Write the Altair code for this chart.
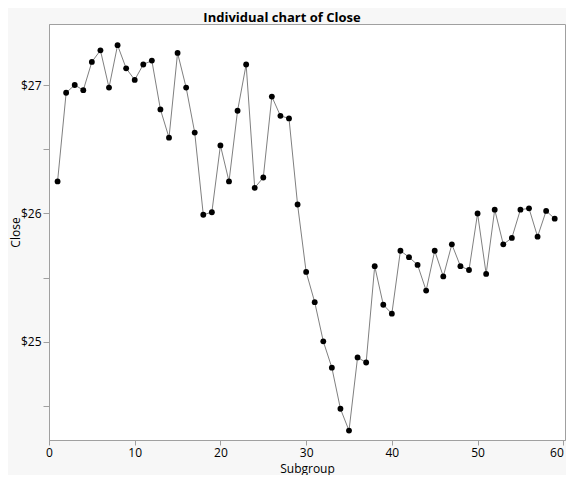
import altair as alt
import pandas as pd

subgroup = list(range(1, 60))
close = [26.25, 26.94, 27.00, 26.96, 27.18, 27.27, 26.98, 27.31, 27.13, 27.04,
         27.16, 27.19, 26.81, 26.59, 27.25, 26.98, 26.63, 25.99, 26.01, 26.53,
         26.25, 26.80, 27.16, 26.20, 26.28, 26.91, 26.76, 26.74, 26.07, 25.545,
         25.31, 25.005, 24.80, 24.48, 24.31, 24.88, 24.84, 25.59, 25.29, 25.22,
         25.71, 25.66, 25.60, 25.40, 25.71, 25.51, 25.76, 25.59, 25.56, 26.00,
         25.53, 26.03, 25.76, 25.81, 26.03, 26.04, 25.82, 26.02, 25.96]

y_ticks = [24.5, 25, 25.5, 26, 26.5, 27]
x_ticks = [0, 10, 20, 30, 40, 50, 60]

df = pd.DataFrame({"Subgroup": subgroup, "Close": close})

FONT = "Open Sans"

x = alt.X("Subgroup:Q", scale=alt.Scale(domain=[0, 60.2], nice=False, zero=False),
          axis=alt.Axis(values=x_ticks, title="Subgroup", grid=False, tickSize=5,
                        labelPadding=2, titleY=32, titleBaseline="alphabetic",
                        labelAlign=alt.condition("datum.value == 60",
                                                 alt.value("right"), alt.value("center"))))
y = alt.Y("Close:Q", scale=alt.Scale(domain=[24.237, 27.475], nice=False, zero=False),
          axis=alt.Axis(values=y_ticks, title="Close", grid=False, tickSize=6,
                        labelExpr="datum.value % 1 == 0 ? '$' + datum.value : ''",
                        labelPadding=2, titleX=-30, titleBaseline="alphabetic"))

base = alt.Chart(df)
line = base.mark_line(color="#808080", strokeWidth=1).encode(x=x, y=y)
pts = base.mark_circle(color="black", size=34, opacity=1).encode(x=x, y=y)

chart = (line + pts).properties(
    width=516, height=416,
    title=alt.TitleParams("Individual chart of Close", fontSize=13, fontWeight="bold",
                          font=FONT, color="black", offset=-1, dx=-25),
    autosize=alt.AutoSizeParams(type="none"),
    padding={"left": 41, "top": 16, "right": 1, "bottom": 35},
    background="#f7f7f7",
).configure_view(
    fill="white", stroke="#a0a0a0", strokeWidth=1
).configure_axis(
    domainColor="#a0a0a0", tickColor="#a0a0a0", labelFont=FONT, titleFont=FONT,
    labelFontSize=12, titleFontSize=12, labelColor="black", titleColor="black",
    titleFontWeight="normal"
)

chart.save("out.html", embed_options={"renderer": "svg", "actions": False})
